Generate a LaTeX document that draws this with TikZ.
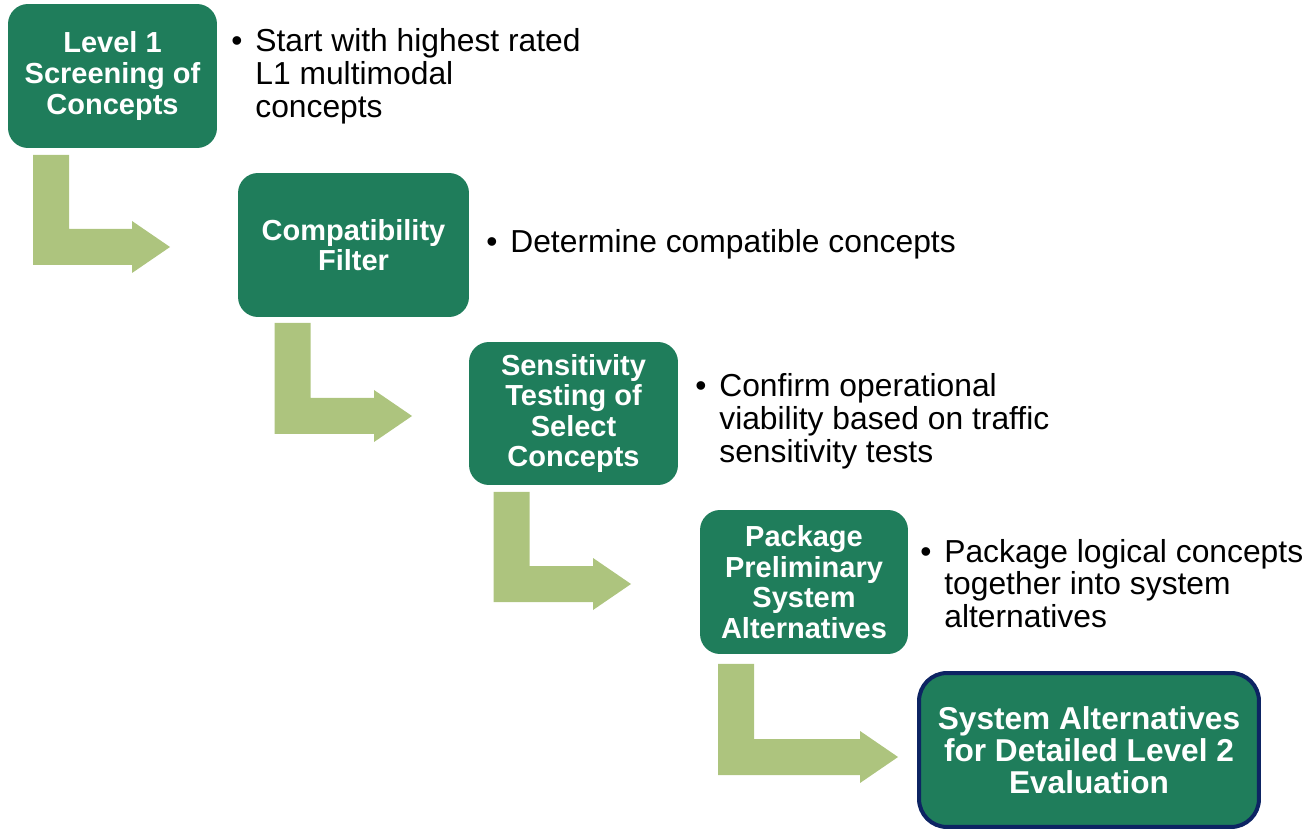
\documentclass[tikz,border=0pt]{standalone}
\usepackage{fontspec}
\setmainfont{Liberation Sans}
\usetikzlibrary{positioning,calc}

\definecolor{boxgreen}{HTML}{1F7D5B}
\definecolor{arrowgreen}{HTML}{ADC47E}
\definecolor{navyline}{HTML}{0D2463}

% bent block arrow: #1 = top of the stem, #2 = tip
\newcommand{\bentarrow}[2]{%
  \fill[turnarrow] ($(#1)+(-18,0)$) -- ($(#1)+(18,0)$) -- ($(#1 |- #2)+(18,-18)$)
    -- ($(#2)+(-38,-18)$) -- ($(#2)+(-38,-26)$) -- (#2) -- ($(#2)+(-38,26)$)
    -- ($(#2)+(-38,18)$) -- ($(#1 |- #2)+(-18,18)$) -- cycle;}

\begin{document}
\begin{tikzpicture}[
    x=0.02cm, y=-0.02cm,
    stepbox/.style={rectangle, rounded corners=0.4cm, fill=boxgreen, text=white, align=center, inner sep=0pt, outer sep=0pt, font=\fontsize{16.5}{17.4}\selectfont\bfseries},
    lastbox/.style={stepbox, draw=navyline, line width=0.08cm, rounded corners=0.56cm, font=\fontsize{18}{18.3}\selectfont\bfseries},
    note/.style={anchor=base west, inner sep=0pt, font=\fontsize{18.1}{18.6}\selectfont},
    turnarrow/.style={fill=arrowgreen},
]
\useasboundingbox (0,0) rectangle (1314,830);

% Steps
\node[stepbox, minimum width=4.18cm, minimum height=2.88cm] (b1) at (112.5,76) {Level 1\\Screening of\\Concepts};
\node[stepbox, minimum width=4.62cm, minimum height=2.88cm] (b2) at (353.5,245) {Compatibility\\Filter};
\node[stepbox, minimum width=4.18cm, minimum height=2.86cm] (b3) at (573.5,413.5) {Sensitivity\\Testing of\\Select\\Concepts};
\node[stepbox, minimum width=4.16cm, minimum height=2.88cm] (b4) at (804,582) {Package\\Preliminary\\System\\Alternatives};
\node[lastbox, minimum width=6.8cm, minimum height=3.08cm] (b5) at (1089,750) {System Alternatives\\for Detailed Level 2\\Evaluation};

% Notes
\node[note] (n1) at (231,52) {\begin{tabular}[t]{@{}l@{}l@{}}
  \makebox[0.48cm][l]{\textbullet} & Start with highest rated\\ & L1 multimodal\\ & concepts\end{tabular}};
\node[note] (n2) at (486,253) {\begin{tabular}[t]{@{}l@{}l@{}}
  \makebox[0.48cm][l]{\textbullet} & Determine compatible concepts\end{tabular}};
\node[note] (n3) at (695,397) {\begin{tabular}[t]{@{}l@{}l@{}}
  \makebox[0.48cm][l]{\textbullet} & Confirm operational\\ & viability based on traffic\\ & sensitivity tests\end{tabular}};
\node[note] (n4) at (920,562) {\begin{tabular}[t]{@{}l@{}l@{}}
  \makebox[0.48cm][l]{\textbullet} & Package logical concepts\\ & together into system\\ & alternatives\end{tabular}};

% Arrows
\coordinate (a1s) at ($(b1.south west)+(43,7)$);
\coordinate (a1t) at ($(b2.west)+(-68,2)$);
\coordinate (a2s) at ($(b2.south west)+(54.5,6)$);
\coordinate (a2t) at ($(b3.west)+(-57,2.5)$);
\coordinate (a3s) at ($(b3.south west)+(42.5,7)$);
\coordinate (a3t) at ($(b4.west)+(-69,2)$);
\coordinate (a4s) at ($(b4.south west)+(36,10)$);
\coordinate (a4t) at ($(b5.west)+(-21,7)$);

\bentarrow{a1s}{a1t}
\bentarrow{a2s}{a2t}
\bentarrow{a3s}{a3t}
\bentarrow{a4s}{a4t}

\end{tikzpicture}
\end{document}
